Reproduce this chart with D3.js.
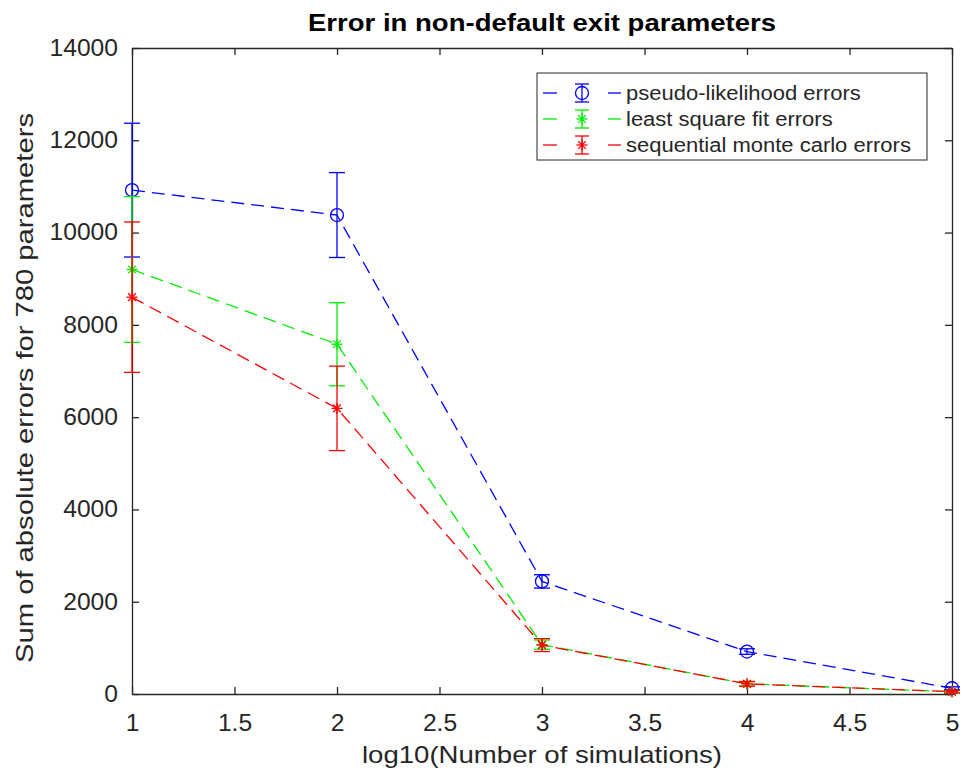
<!DOCTYPE html>
<html lang="en">
	<head>
		<meta charset="utf-8">
		<title>Error in non-default exit parameters</title>
		<script type="text/javascript" src="https://d3js.org/d3.v7.min.js" charset="utf-8"></script>
		<style type="text/css">
		body { margin: 0; background: #fff; }
		text { font-family: "Liberation Sans", Arial, sans-serif; fill: #262626; }
		</style>
	</head>
	<body>
<div id="chart"></div>
<script type="text/javascript">
		// log10 of number of simulations
		var xValues = [1, 2, 3, 4, 5];

		var seriesNames = ["pseudo-likelihood errors", "least square fit errors", "sequential monte carlo errors"];

		// mean sum of absolute errors
		var pseudoMeans = [10920, 10380, 2440, 920, 125];
		var lsqMeans = [9200, 7580, 1070, 220, 50];
		var smcMeans = [8600, 6190, 1060, 220, 50];

		// error bar half lengths
		var pseudoErr = [1450, 920, 145, 60, 30];
		var lsqErr = [1580, 900, 100, 50, 30];
		var smcErr = [1630, 915, 140, 50, 30];

		var xTicks = [1, 1.5, 2, 2.5, 3, 3.5, 4, 4.5, 5];
		var yTicks = [0, 2000, 4000, 6000, 8000, 10000, 12000, 14000];

		var colors = ["#0000ff", "#00ee00", "#ff0000"];
		var markers = ["circle", "star", "star"];

		var margin = {top: 48, right: 11, bottom: 87, left: 132},
			w = 963 - margin.left - margin.right,
			h = 781 - margin.top - margin.bottom;

		var svg = d3.select("#chart").append("svg")
			.attr("width", 963)
			.attr("height", 781);

		var g = svg.append("g")
			.attr("transform", "translate(" + margin.left + "," + margin.top + ")");

		var x = d3.scaleLinear().domain([1, 5]).range([0, w]);
		var y = d3.scaleLinear().domain([0, 14000]).range([h, 0]);

		var means = [pseudoMeans, lsqMeans, smcMeans];
		var errs = [pseudoErr, lsqErr, smcErr];

		// the reference font runs a bit wider than Liberation Sans, stretch to fit
		function stretch(sel, factor) {
			sel.each(function() {
				var len = this.getComputedTextLength() * factor;
				this.setAttribute("textLength", len);
				this.setAttribute("lengthAdjust", "spacingAndGlyphs");
			});
		}
		function fitTo(sel, len) {
			sel.attr("textLength", len).attr("lengthAdjust", "spacingAndGlyphs");
		}

		//axes - ticks inside on all four sides like matlab's box on
		function styleAxis(sel) {
			sel.select(".domain").attr("stroke", "#262626").attr("stroke-width", 1.3);
			sel.selectAll(".tick line").attr("stroke", "#262626").attr("stroke-width", 1.3);
			sel.selectAll("text").attr("font-size", "23px").attr("fill", "#262626")
				.attr("font-family", "Liberation Sans, Arial, sans-serif")
				.call(stretch, 1.07);
		}

		g.append("g")
			.attr("transform", "translate(0," + h + ")")
			.call(d3.axisBottom(x).tickValues(xTicks).tickSizeInner(-7).tickSizeOuter(0).tickPadding(21)
				.tickFormat(function(d) { return d; }))
			.call(styleAxis);

		g.append("g")
			.call(d3.axisTop(x).tickValues(xTicks).tickSizeInner(-7).tickSizeOuter(0).tickFormat(""))
			.call(styleAxis);

		g.append("g")
			.call(d3.axisLeft(y).tickValues(yTicks).tickSizeInner(-7).tickSizeOuter(0).tickPadding(14)
				.tickFormat(function(d) { return d; }))
			.call(styleAxis);

		g.append("g")
			.attr("transform", "translate(" + w + ",0)")
			.call(d3.axisRight(y).tickValues(yTicks).tickSizeInner(-7).tickSizeOuter(0).tickFormat(""))
			.call(styleAxis);

		//series
		var line = d3.line()
			.x(function(d) { return x(d[0]); })
			.y(function(d) { return y(d[1]); });

		function drawMarker(sel, type, color) {
			if (type == "circle") {
				sel.append("circle").attr("r", 6.5).attr("fill", "none")
					.attr("stroke", color).attr("stroke-width", 1.3);
			} else {
				var s = 5.5;
				var paths = ["M" + (-s) + ",0H" + s, "M0," + (-s) + "V" + s,
					"M" + (-s * 0.7) + "," + (-s * 0.7) + "L" + (s * 0.7) + "," + (s * 0.7),
					"M" + (-s * 0.7) + "," + (s * 0.7) + "L" + (s * 0.7) + "," + (-s * 0.7)];
				paths.forEach(function(p) {
					sel.append("path").attr("d", p).attr("stroke", color).attr("stroke-width", 1.3);
				});
			}
		}

		for (var k = 0; k < means.length; k++) {
			var pts = xValues.map(function(xv, i) { return [xv, means[k][i], errs[k][i]]; });
			var sg = g.append("g");

			sg.append("path")
				.datum(pts)
				.attr("d", line)
				.attr("fill", "none")
				.attr("stroke", colors[k])
				.attr("stroke-width", 1.3)
				.attr("stroke-dasharray", "13,7");

			var eb = sg.selectAll("g.eb").data(pts).enter().append("g").attr("class", "eb");
			eb.append("line")
				.attr("x1", function(d) { return x(d[0]); })
				.attr("x2", function(d) { return x(d[0]); })
				.attr("y1", function(d) { return y(d[1] + d[2]); })
				.attr("y2", function(d) { return y(d[1] - d[2]); })
				.attr("stroke", colors[k]).attr("stroke-width", 1.3);
			[1, -1].forEach(function(sign) {
				eb.append("line")
					.attr("x1", function(d) { return x(d[0]) - 8; })
					.attr("x2", function(d) { return x(d[0]) + 8; })
					.attr("y1", function(d) { return y(d[1] + sign * d[2]); })
					.attr("y2", function(d) { return y(d[1] + sign * d[2]); })
					.attr("stroke", colors[k]).attr("stroke-width", 1.3);
			});

			sg.selectAll("g.mk").data(pts).enter().append("g").attr("class", "mk")
				.attr("transform", function(d) { return "translate(" + x(d[0]) + "," + y(d[1]) + ")"; })
				.each(function() { drawMarker(d3.select(this), markers[k], colors[k]); });
		}

		//legend
		var lg = svg.append("g").attr("transform", "translate(537,73)");
		lg.append("rect").attr("width", 390).attr("height", 87)
			.attr("fill", "#fff").attr("stroke", "#262626").attr("stroke-width", 1);
		seriesNames.forEach(function(name, i) {
			var row = lg.append("g").attr("transform", "translate(0," + (20 + i * 26) + ")");
			row.append("line").attr("x1", 6).attr("x2", 20).attr("stroke", colors[i]).attr("stroke-width", 1.3);
			row.append("line").attr("x1", 71).attr("x2", 84).attr("stroke", colors[i]).attr("stroke-width", 1.3);
			row.append("line").attr("x1", 45).attr("x2", 45).attr("y1", -9).attr("y2", 9)
				.attr("stroke", colors[i]).attr("stroke-width", 1.3);
			row.append("line").attr("x1", 38).attr("x2", 52).attr("y1", -9).attr("y2", -9)
				.attr("stroke", colors[i]).attr("stroke-width", 1.3);
			row.append("line").attr("x1", 38).attr("x2", 52).attr("y1", 9).attr("y2", 9)
				.attr("stroke", colors[i]).attr("stroke-width", 1.3);
			var m = row.append("g").attr("transform", "translate(45,0)");
			drawMarker(m, markers[i], colors[i]);
			row.append("text").attr("x", 89).attr("y", 7).attr("font-size", "20px").text(name)
				.call(stretch, 1.1);
		});

		//titles
		svg.append("text")
			.attr("x", margin.left + w / 2).attr("y", 31)
			.attr("text-anchor", "middle")
			.attr("font-size", "24px").attr("font-weight", "bold")
			.style("fill", "#000")
			.text("Error in non-default exit parameters")
			.call(fitTo, 468);

		svg.append("text")
			.attr("x", margin.left + w / 2).attr("y", 763)
			.attr("text-anchor", "middle")
			.attr("font-size", "24px")
			.text("log10(Number of simulations)")
			.call(fitTo, 360);

		svg.append("text")
			.attr("transform", "translate(33,388) rotate(-90)")
			.attr("text-anchor", "middle")
			.attr("font-size", "24px")
			.text("Sum of absolute errors for 780 parameters")
			.call(fitTo, 550);
</script>
	</body>
</html>
